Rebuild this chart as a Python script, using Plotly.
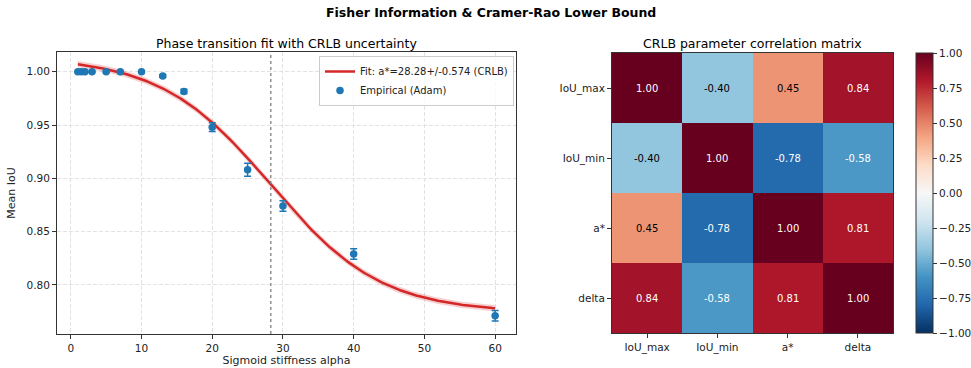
import numpy as np
import plotly.graph_objects as go

# ---------------- data ----------------
alpha_vals = [1, 1.5, 2, 3, 5, 7, 10, 13, 16, 20, 25, 30, 40, 60]
mean_iou = [1.000, 1.000, 1.000, 1.000, 1.000, 1.000, 1.000, 0.996, 0.9815, 0.948, 0.908, 0.874, 0.829, 0.771]
iou_err = [0.0005, 0.0005, 0.0005, 0.0005, 0.0005, 0.0005, 0.0008, 0.0012, 0.002, 0.004, 0.006, 0.005, 0.005, 0.005]

fit_iou_max = 1.014
fit_iou_min = 0.774
fit_a_star = 28.28
fit_delta = 7.8
fit_a_star_crlb = 0.574
band_halfwidth = 0.003

param_names = ["IoU_max", "IoU_min", "a*", "delta"]
corr = [
    [1.00, -0.40, 0.45, 0.84],
    [-0.40, 1.00, -0.78, -0.58],
    [0.45, -0.78, 1.00, 0.81],
    [0.84, -0.58, 0.81, 1.00],
]

cbar_ticks = [-1.0, -0.75, -0.5, -0.25, 0.0, 0.25, 0.5, 0.75, 1.0]

# ---------------- figure ----------------
W, H = 971, 368
FONT = "DejaVu Sans"

def px_x(p):
    return p / W

def px_y(p):
    return 1 - p / H

a_grid = np.linspace(min(alpha_vals), max(alpha_vals), 300)
fit_curve = fit_iou_min + (fit_iou_max - fit_iou_min) / (1 + np.exp((a_grid - fit_a_star) / fit_delta))

fig = go.Figure()

# uncertainty band
fig.add_trace(go.Scatter(
    x=np.concatenate([a_grid, a_grid[::-1]]),
    y=np.concatenate([fit_curve + band_halfwidth, (fit_curve - band_halfwidth)[::-1]]),
    fill="toself", fillcolor="rgba(214,39,40,0.22)", line=dict(width=0),
    hoverinfo="skip", showlegend=False, xaxis="x", yaxis="y"))

fig.add_trace(go.Scatter(
    x=a_grid, y=fit_curve, mode="lines",
    line=dict(color="#d62728", width=2.5),
    name=f"Fit: a*={fit_a_star:.2f}+/-{fit_a_star_crlb:.3f} (CRLB)",
    xaxis="x", yaxis="y"))

fig.add_trace(go.Scatter(
    x=alpha_vals, y=mean_iou, mode="markers",
    marker=dict(color="#1f77b4", size=7.5),
    error_y=dict(type="data", array=iou_err, visible=True, color="#1f77b4", thickness=1.5, width=3.5),
    name="Empirical (Adam)", xaxis="x", yaxis="y"))

# vertical dotted line at a*
fig.add_shape(type="line", xref="x", yref="paper", x0=fit_a_star, x1=fit_a_star,
              y0=px_y(334), y1=px_y(52), line=dict(color="#808080", width=1.3, dash="dot"))

# colorscale (matplotlib RdBu_r)
rdbu = ["#053061", "#2166ac", "#4393c3", "#92c5de", "#d1e5f0", "#f7f7f7",
        "#fddbc7", "#f4a582", "#d6604d", "#b2182b", "#67001f"]
cscale = [[i / (len(rdbu) - 1), c] for i, c in enumerate(rdbu)]

fig.add_trace(go.Heatmap(
    z=corr, x=param_names, y=param_names, zmin=-1, zmax=1,
    colorscale=cscale, xaxis="x2", yaxis="y2", xgap=0, ygap=0,
    colorbar=dict(
        x=px_x(916), xanchor="left", thickness=17, lenmode="fraction",
        len=(333 - 53) / H, y=px_y((53 + 333) / 2), yanchor="middle",
        outlinewidth=1, outlinecolor="#333", xpad=0, ypad=0,
        tickmode="array", tickvals=cbar_ticks,
        ticktext=[f"{v:.2f}".replace("-", "\u2212") for v in cbar_ticks],
        ticks="outside", ticklen=4, tickcolor="#333",
        tickfont=dict(size=10.5, color="#222", family=FONT)),
    showscale=True))

annotations = []
for i, rn in enumerate(param_names):
    for j, cn in enumerate(param_names):
        v = corr[i][j]
        annotations.append(dict(
            x=cn, y=rn, xref="x2", yref="y2", text=f"{v:.2f}", showarrow=False,
            font=dict(size=10, color="white" if abs(v) > 0.5 else "black", family=FONT)))

annotations += [
    dict(text="<b>Fisher Information & Cramer-Rao Lower Bound</b>", x=px_x(491), y=px_y(13),
         xref="paper", yref="paper", showarrow=False, xanchor="center", yanchor="middle",
         font=dict(size=12.5, color="black", family=FONT)),
    dict(text="Phase transition fit with CRLB uncertainty", x=px_x(286.5), y=px_y(43),
         xref="paper", yref="paper", showarrow=False, xanchor="center", yanchor="middle",
         font=dict(size=12.5, color="black", family=FONT)),
    dict(text="CRLB parameter correlation matrix", x=px_x(752.5), y=px_y(43),
         xref="paper", yref="paper", showarrow=False, xanchor="center", yanchor="middle",
         font=dict(size=12.5, color="black", family=FONT)),
]

axis_common = dict(showline=True, linecolor="#333", linewidth=1, mirror=True,
                   ticks="outside", ticklen=4, tickcolor="#333", automargin=False,
                   tickfont=dict(size=10.5, color="#222", family=FONT), zeroline=False)

grid_style = dict(showgrid=True, gridcolor="#e2e2e2", griddash="4px,2px", gridwidth=0.8)

fig.update_layout(
    width=W, height=H, margin=dict(l=0, r=0, t=0, b=0, autoexpand=False),
    paper_bgcolor="white", plot_bgcolor="white",
    font=dict(family=FONT, color="#222"),
    xaxis=dict(domain=[px_x(57), px_x(516)], range=[-1.95, 62.95], tickvals=[0, 10, 20, 30, 40, 50, 60],
               title=dict(text="Sigmoid stiffness alpha", font=dict(size=11, family=FONT, color="#222"), standoff=3),
               anchor="y", **grid_style, **axis_common),
    yaxis=dict(domain=[px_y(334), px_y(52)], range=[0.7539, 1.0185],
               tickvals=[0.80, 0.85, 0.90, 0.95, 1.00], tickformat=".2f",
               title=dict(text="Mean IoU", font=dict(size=11, family=FONT, color="#222"), standoff=8),
               anchor="x", **grid_style, **axis_common),
    xaxis2=dict(domain=[px_x(612), px_x(893)], anchor="y2", showgrid=False, type="category", **axis_common),
    yaxis2=dict(domain=[px_y(333), px_y(53)], anchor="x2", showgrid=False, type="category",
                autorange="reversed", **axis_common),
    legend=dict(x=px_x(514), y=px_y(56), xanchor="right", yanchor="top",
                bgcolor="rgba(255,255,255,0.8)", bordercolor="#ccc", borderwidth=1,
                font=dict(size=10, family=FONT, color="#222"), tracegroupgap=0,
                itemwidth=30),
    annotations=annotations,
    showlegend=True,
)

fig.write_html("out.html")
